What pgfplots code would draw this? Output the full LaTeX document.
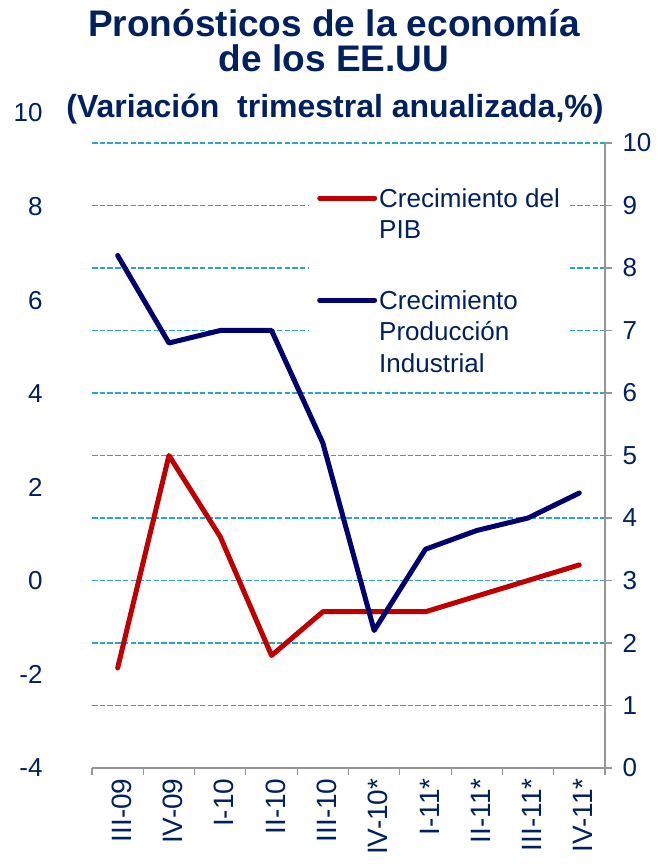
\documentclass[border=0pt]{standalone}
\usepackage{fontspec}
\setmainfont{Liberation Sans}
\usepackage{pgfplots}
\pgfplotsset{compat=1.18}
\definecolor{navy}{RGB}{0,32,96}
\definecolor{ipblue}{RGB}{0,0,110}
\definecolor{pibred}{RGB}{192,0,0}
\definecolor{gridblue}{RGB}{44,164,200}
\definecolor{axgray}{RGB}{150,150,150}
\begin{document}
\begin{tikzpicture}[x=1pt,y=1pt]
\useasboundingbox (-92,-96) rectangle (565,768);
% titles
\node[anchor=base, text=navy, font=\fontsize{37}{37}\selectfont\bfseries] at (242,731) {Pronósticos de la economía};
\node[anchor=base, text=navy, font=\fontsize{37}{37}\selectfont\bfseries] at (242,696) {de los EE.UU};
\node[anchor=base, text=navy, font=\fontsize{32}{32}\selectfont\bfseries] at (243,650) {(Variación\ \ trimestral anualizada,\%)};
% left decorative axis
\begin{axis}[at={(0,0)}, anchor=south west, scale only axis,
  width=513pt, height=655pt,
  xmin=0, xmax=1, ymin=-4, ymax=10,
  ytick={-4,-2,...,10},
  hide x axis, axis y line*=left,
  y axis line style={draw=none}, ytick style={draw=none},
  yticklabel style={font=\fontsize{26}{26}\selectfont, text=navy, xshift=-46pt},
  /pgf/number format/assume math mode=true]
\end{axis}
% main axis
\begin{axis}[at={(0,0)}, anchor=south west, scale only axis,
  width=513pt, height=625pt,
  xmin=-0.5, xmax=9.5, ymin=0, ymax=10,
  axis y line*=right, axis x line*=bottom,
  axis line style={draw=axgray, line width=1.1pt},
  tick align=outside,
  ytick={0,...,10},
  major tick length=7pt,
  ytick style={draw=axgray, line width=1.1pt},
  xtick={0,...,9},
  xticklabels={III-09,IV-09,I-10,II-10,III-10,IV-10*,I-11*,II-11*,III-11*,IV-11*},
  every major x tick/.append style={draw=none},
  minor xtick={-0.5,0.5,...,9.5},
  minor tick length=7pt,
  every minor x tick/.append style={draw=axgray, line width=1.1pt},
  x tick label style={rotate=90, anchor=east, font=\fontsize{28}{28}\selectfont, text=navy, yshift=-4pt},
  yticklabel style={font=\fontsize{26}{26}\selectfont, text=navy, xshift=7pt},
  ymajorgrids,
  grid style={draw=gridblue, dash pattern=on 5.5pt off 2.2pt, line width=1.6pt},
  /pgf/number format/assume math mode=true,
  legend style={at={(0.423,0.941)}, anchor=north west, draw=none, fill=white,
    inner xsep=8pt, inner ysep=6pt, row sep=46pt,
    font=\fontsize{26}{31.5}\selectfont, text=navy,
    cells={anchor=north west, align=left, inner xsep=1pt, inner ysep=2pt}},
  legend image code/.code={\draw[#1, line width=5pt, line cap=round] (0pt,-12pt) -- (55pt,-12pt);},
  ]
\addplot[pibred, line width=5pt, line join=round, line cap=round] coordinates {
(0,1.6) (1,5.0) (2,3.7) (3,1.8) (4,2.5) (5,2.5) (6,2.5) (7,2.75) (8,3.0) (9,3.25)};
\addlegendentry{Crecimiento del\\PIB}
\addplot[ipblue, line width=5pt, line join=round, line cap=round] coordinates {
(0,8.2) (1,6.8) (2,7.0) (3,7.0) (4,5.2) (5,2.2) (6,3.5) (7,3.8) (8,4.0) (9,4.4)};
\addlegendentry{Crecimiento\\Producción\\Industrial}
\end{axis}
\end{tikzpicture}
\end{document}
